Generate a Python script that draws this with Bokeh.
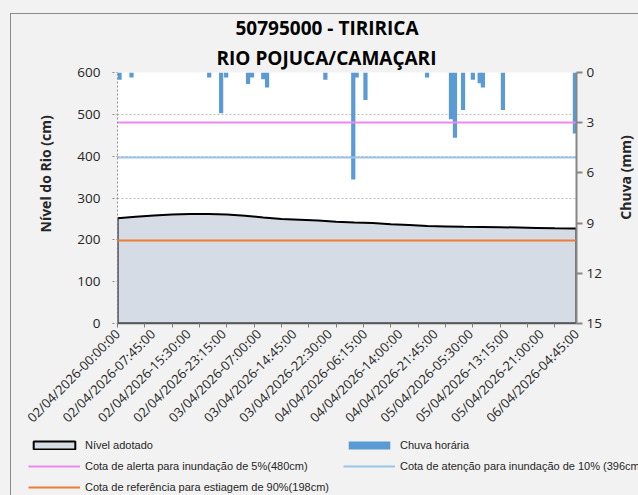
import math
from bokeh.plotting import figure
from bokeh.layouts import column, row
from bokeh.models import Range1d, LinearAxis, FixedTicker, Legend, LegendItem, Title, Label
from bokeh.embed import file_html
from bokeh.resources import INLINE

# ---------------- data ----------------
tick_labels = [
    "02/04/2026-00:00:00", "02/04/2026-07:45:00", "02/04/2026-15:30:00", "02/04/2026-23:15:00",
    "03/04/2026-07:00:00", "03/04/2026-14:45:00", "03/04/2026-22:30:00", "04/04/2026-06:15:00",
    "04/04/2026-14:00:00", "04/04/2026-21:45:00", "05/04/2026-05:30:00", "05/04/2026-13:15:00",
    "05/04/2026-21:00:00", "06/04/2026-04:45:00",
]
tick_step = 31          # quarter-hour steps between labels
n_steps = 403           # last quarter-hour step (06/04 04:45)
minor_step = 24

# river level (cm) at quarter-hour step indices
level_idx = [0, 16, 32, 48, 64, 80, 96, 112, 128, 144, 160, 176, 192, 208,
             224, 240, 256, 272, 288, 304, 320, 336, 352, 368, 384, 400, 403]
level_cm = [251.5, 255, 258, 260.5, 261.5, 262, 260.5, 257.5, 253.5, 250, 248, 246, 243.5, 241.5,
            240, 237.5, 235.5, 233, 232, 231, 230.5, 230, 229.5, 228.5, 227.5, 227, 227]

# hourly rain (mm) at quarter-hour step indices
rain_idx = [1.8, 12.3, 80.5, 91, 95.4, 114.6, 118.1, 128, 131.3, 182.5, 207, 210, 217.7,
            271.8, 292.8, 296.3, 303.4, 312, 318, 320.8, 338.4, 401.6]
rain_mm = [0.44, 0.3, 0.3, 2.44, 0.3, 0.68, 0.3, 0.4, 0.9, 0.44, 6.4, 0.3, 1.64,
           0.3, 2.8, 3.9, 2.24, 0.44, 0.64, 0.9, 2.24, 3.64]

alert_cm = [480]
attention_cm = [396]
reference_cm = [198]

left_ticks = [0, 100, 200, 300, 400, 500, 600]
right_ticks = [0, 3, 6, 9, 12, 15]

title_lines = ["50795000 - TIRIRICA", "RIO POJUCA/CAMAÇARI"]
left_title = "Nível do Rio (cm)"
right_title = "Chuva (mm)"

legend_labels = ["Nível adotado", "Cota de alerta para inundação de 5%(480cm)",
                 "Cota de referência para estiagem de 90%(198cm)", "Chuva horária",
                 "Cota de atenção para inundação de 10% (396cm)"]

# ---------------- styles / layout sizes ----------------
FONT = "Open Sans"
AREA = dict(fill_color="#d6dce5", line_color="black", line_width=2)
BAR = dict(fill_color="#5b9bd5", line_color=None)
ALERT = dict(line_color="#ee88ee", line_width=2)
ATT = dict(line_color="#9dc3e6", line_width=2)
REF = dict(line_color="#ed7d31", line_width=2)
BORDER = "#8c8c8c"
BG = "#f2f2f2"

W, H = 638, 495
TOP_H = 437          # height of the chart row; legend strip below
RW = 22              # right strip holding the rain axis title
FRAME_L, FRAME_T, FRAME_W, FRAME_H = 117, 72, 459, 251
TITLE_Y = 177        # vertical centre of both axis titles


def draw_series(fig):
    """Draw every series on a figure; returns renderers for the legend."""
    r_area = fig.patch([level_idx[0]] + level_idx + [level_idx[-1]], [0] + level_cm + [0], **AREA)
    r_bar = fig.vbar(x=rain_idx, top=[0] * len(rain_mm), bottom=rain_mm, width=3.7,
                     y_range_name="rain", **BAR)
    r_alert = fig.hspan(y=alert_cm, **ALERT)
    r_att = fig.hspan(y=attention_cm, **ATT)
    r_ref = fig.hspan(y=reference_cm, **REF)
    return r_area, r_bar, r_alert, r_att, r_ref


# ---------------- main figure ----------------
p = figure(frame_width=FRAME_W, frame_height=FRAME_H,
           x_range=Range1d(0, n_steps), y_range=Range1d(0, 600),
           output_backend="svg", toolbar_location=None,
           min_border_left=FRAME_L, min_border_right=W - RW - FRAME_L - FRAME_W,
           min_border_top=FRAME_T, min_border_bottom=TOP_H - FRAME_T - FRAME_H)
p.background_fill_color = "white"
p.border_fill_alpha = 0
p.outline_line_color = None
p.styles = {"background": f"linear-gradient({BORDER}, {BORDER}) 10px 13px / 1px 100% no-repeat, "
                          f"linear-gradient({BORDER}, {BORDER}) 10px 13px / 100% 1px no-repeat, {BG}"}
p.extra_y_ranges = {"rain": Range1d(15, 0)}
draw_series(p)

# grid
p.xgrid.grid_line_color = None
p.ygrid.ticker = FixedTicker(ticks=left_ticks)
p.ygrid.grid_line_color = "#bfbfbf"
p.ygrid.grid_line_dash = "2 2"

# left axis
ya = p.yaxis[0]
ya.ticker = FixedTicker(ticks=left_ticks)
ya.axis_line_color = BORDER
ya.axis_line_dash = "2 2"
ya.major_tick_line_color = BORDER
ya.major_tick_line_dash = "2 2"
ya.major_tick_out = 5
ya.major_tick_in = 0
ya.minor_tick_line_color = None
ya.major_label_text_font = FONT
ya.major_label_text_font_size = "13.5px"
ya.major_label_text_color = "#262626"
ya.major_label_standoff = 12

# right axis
ra = LinearAxis(y_range_name="rain", ticker=FixedTicker(ticks=right_ticks))
ra.axis_line_color = "#868686"
ra.axis_line_width = 2
ra.major_tick_line_color = "#868686"
ra.major_tick_line_width = 2
ra.major_tick_out = 6
ra.major_tick_in = 0
ra.minor_tick_line_color = None
ra.major_label_text_font = FONT
ra.major_label_text_font_size = "13.5px"
ra.major_label_text_color = "#262626"
ra.major_label_standoff = 4
p.add_layout(ra, "right")

# bottom axis
xa = p.xaxis[0]
tick_pos = [i * tick_step for i in range(len(tick_labels))]
xa.ticker = FixedTicker(ticks=tick_pos, minor_ticks=list(range(0, n_steps, minor_step)))
xa.major_label_overrides = {t: s for t, s in zip(tick_pos, tick_labels)}
xa.major_label_orientation = math.pi / 4
xa.major_label_text_font = FONT
xa.major_label_text_font_size = "13px"
xa.major_label_text_color = "#262626"
xa.major_label_standoff = 2
xa.major_tick_line_color = None
xa.minor_tick_line_color = "#7f7f7f"
xa.minor_tick_out = 4
xa.minor_tick_in = 0
xa.axis_line_color = "#595959"
xa.axis_line_width = 1.5

# chart title (second line first: later titles stack further out)
for t, off, so in ((title_lines[1], 99, 4), (title_lines[0], 118, 0)):
    p.add_layout(Title(text=t, align="left", offset=off, text_font=FONT,
                       text_font_style="bold", text_font_size="19px",
                       text_color="black", standoff=so), "above")

# left axis title: starts (bottom end) below the frame centre so it is centred at TITLE_Y
left_len = 111
p.add_layout(Title(text=left_title, align="left",
                   offset=(FRAME_T + FRAME_H) - (TITLE_Y + left_len // 2),
                   text_font=FONT, text_font_style="bold", text_font_size="14px",
                   text_color="#262626", standoff=40), "left")

# ---------------- right axis-title strip ----------------
rt = figure(width=RW, height=TOP_H, x_range=Range1d(0, RW), y_range=Range1d(0, TOP_H),
            output_backend="svg", toolbar_location=None, min_border=0,
            x_axis_location=None, y_axis_location=None)
rt.grid.grid_line_color = None
rt.outline_line_color = None
rt.background_fill_alpha = 0
rt.border_fill_alpha = 0
rt.styles = {"background": f"linear-gradient({BORDER}, {BORDER}) 0px 13px / 100% 1px no-repeat, {BG}"}
rt.add_layout(Label(x=625 - (W - RW), y=TOP_H - TITLE_Y, text=right_title, angle=math.pi / 2,
                    text_align="center", text_baseline="middle", text_font=FONT,
                    text_font_style="bold", text_font_size="14px", text_color="#262626"))

# ---------------- legend strip ----------------
# same series drawn on ranges that keep them out of view; only the legend shows
lf = figure(width=W, height=H - TOP_H, x_range=Range1d(-2, -1), y_range=Range1d(-2, -1),
            output_backend="svg", toolbar_location=None, min_border=0,
            x_axis_location=None, y_axis_location=None)
lf.grid.grid_line_color = None
lf.outline_line_color = None
lf.background_fill_alpha = 0
lf.border_fill_alpha = 0
lf.extra_y_ranges = {"rain": Range1d(-2, -1)}
lf.styles = {"background": f"linear-gradient({BORDER}, {BORDER}) 10px 0px / 1px 100% no-repeat, {BG}"}
r_area, r_bar, r_alert, r_att, r_ref = draw_series(lf)

legend = Legend(items=[
    LegendItem(label=legend_labels[0], renderers=[r_area]),
    LegendItem(label=legend_labels[1], renderers=[r_alert]),
    LegendItem(label=legend_labels[2], renderers=[r_ref]),
    LegendItem(label=legend_labels[3], renderers=[r_bar]),
    LegendItem(label=legend_labels[4], renderers=[r_att]),
], location=(28, 1), ncols=2, orientation="vertical")
legend.background_fill_alpha = 0
legend.border_line_color = None
legend.padding = 0
legend.margin = 0
legend.spacing = 6
legend.glyph_width = 52
legend.glyph_height = 10
legend.label_height = 15
legend.label_width = 252
legend.label_standoff = 5
legend.label_text_font = "Liberation Sans"
legend.label_text_font_size = "11px"
legend.label_text_color = "#262626"
lf.add_layout(legend, "center")

layout = column(row(p, column(rt), spacing=0), row(lf), spacing=0)
open("out.html", "w").write(file_html(layout, INLINE))
